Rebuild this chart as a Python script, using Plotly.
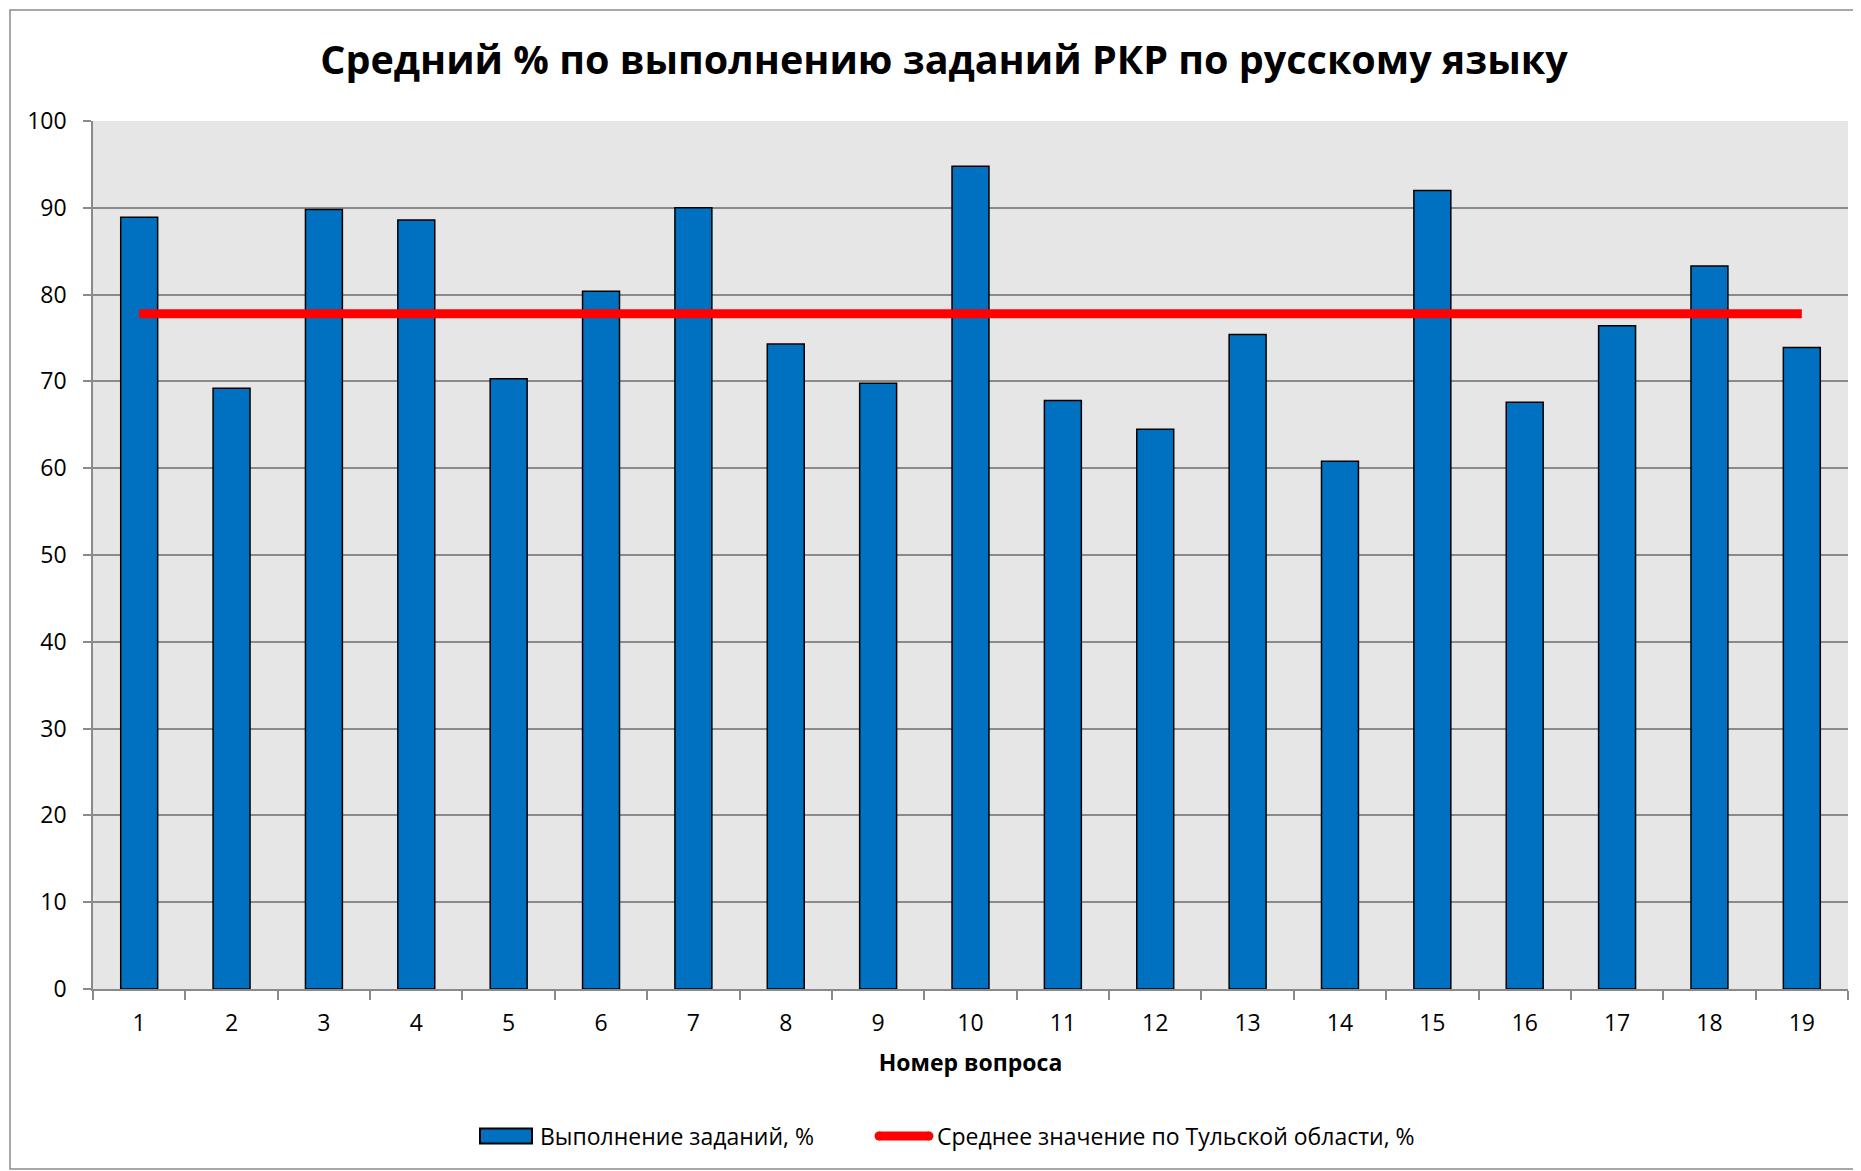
import plotly.graph_objects as go

categories = [str(i) for i in range(1, 20)]
completion = [88.9, 69.2, 89.8, 88.6, 70.3, 80.4, 90.0, 74.3, 69.8, 94.8,
              67.8, 64.5, 75.4, 60.8, 92.0, 67.6, 76.4, 83.3, 73.9]
region_avg = [77.8, 77.8, 77.8, 77.8, 77.8, 77.8, 77.8, 77.8, 77.8, 77.8,
              77.8, 77.8, 77.8, 77.8, 77.8, 77.8, 77.8, 77.8, 77.8]
y_ticks = [0, 10, 20, 30, 40, 50, 60, 70, 80, 90, 100]

title_text = "Средний % по выполнению заданий РКР по русскому языку"
x_title = "Номер вопроса"
bar_name = "Выполнение заданий, %"
line_name = "Среднее значение по Тульской области, %"

BAR_COLOR = "#0070c0"
LINE_COLOR = "#ff0000"

# page is offset by the 8px body margin; coordinates below are figure pixels
W, H = 1861, 1171
L, R, T, B = 85, 21, 113, 190
pw = W - L - R
ph = H - T - B

FONT = "Open Sans"
GRID = "#8a8a8a"

fig = go.Figure()
fig.add_trace(go.Bar(
    x=categories, y=completion, name=bar_name,
    marker=dict(color=BAR_COLOR, line=dict(color="#000000", width=1.5)),
    showlegend=False,
))
fig.add_trace(go.Scatter(
    x=categories, y=region_avg, name=line_name, mode="lines",
    line=dict(color=LINE_COLOR, width=9),
    showlegend=False,
))


def px_x(p):
    return (p - L) / pw


def px_y(p):
    return (H - B - p) / ph


# outer chart border
fig.add_shape(type="rect", xref="paper", yref="paper",
              x0=px_x(2), x1=px_x(W + 5), y0=px_y(1161), y1=px_y(2),
              line=dict(color="#8c8c8c", width=1.5), layer="below")

# legend (drawn to match the wide Excel-style keys)
LEG_Y = 1128
fig.add_shape(type="rect", xref="paper", yref="paper",
              x0=px_x(472), x1=px_x(524), y0=px_y(LEG_Y + 7.5), y1=px_y(LEG_Y - 7.5),
              fillcolor=BAR_COLOR, line=dict(color="#000000", width=2))
fig.add_annotation(xref="paper", yref="paper", x=px_x(530), y=px_y(LEG_Y),
                   text=bar_name, showarrow=False, xanchor="left", yanchor="middle",
                   font=dict(family=FONT, size=23, color="#000000"))
fig.add_shape(type="line", xref="paper", yref="paper",
              x0=px_x(871), x1=px_x(921), y0=px_y(LEG_Y), y1=px_y(LEG_Y),
              line=dict(color=LINE_COLOR, width=9))
fig.add_shape(type="circle", xref="paper", yref="paper",
              x0=px_x(866.5), x1=px_x(875.5), y0=px_y(LEG_Y + 4.5), y1=px_y(LEG_Y - 4.5),
              fillcolor=LINE_COLOR, line=dict(width=0))
fig.add_shape(type="circle", xref="paper", yref="paper",
              x0=px_x(916.5), x1=px_x(925.5), y0=px_y(LEG_Y + 4.5), y1=px_y(LEG_Y - 4.5),
              fillcolor=LINE_COLOR, line=dict(width=0))
fig.add_annotation(xref="paper", yref="paper", x=px_x(927), y=px_y(LEG_Y),
                   text=line_name, showarrow=False, xanchor="left", yanchor="middle",
                   font=dict(family=FONT, size=23, color="#000000"))

fig.update_layout(
    width=W, height=H,
    margin=dict(l=L, r=R, t=T, b=B),
    paper_bgcolor="white",
    plot_bgcolor="#e6e6e6",
    bargap=0.6,
    font=dict(family=FONT, color="#000000", size=23),
    title=dict(text="<b>" + title_text + "</b>", xref="container", yref="container",
               x=936 / W, y=1 - 52 / H, xanchor="center", yanchor="middle",
               font=dict(family=FONT, size=39.5, color="#000000")),
    showlegend=False,
    xaxis=dict(
        type="category",
        showgrid=False,
        showline=True, linecolor=GRID, linewidth=1.5,
        ticks="outside", tickson="boundaries", ticklen=9, tickcolor=GRID, tickwidth=1.5,
        ticklabelstandoff=13,
        tickfont=dict(family=FONT, size=23),
        title=dict(text="<b>" + x_title + "</b>", font=dict(family=FONT, size=23), standoff=18),
    ),
    yaxis=dict(
        range=[0, 100],
        tickvals=y_ticks,
        showgrid=True, gridcolor=GRID, gridwidth=1.5,
        zeroline=False,
        showline=True, linecolor=GRID, linewidth=1.5,
        ticks="outside", ticklen=8, tickcolor=GRID, tickwidth=1.5,
        ticklabelstandoff=12,
        tickfont=dict(family=FONT, size=23),
    ),
)

fig.write_html("out.html")
